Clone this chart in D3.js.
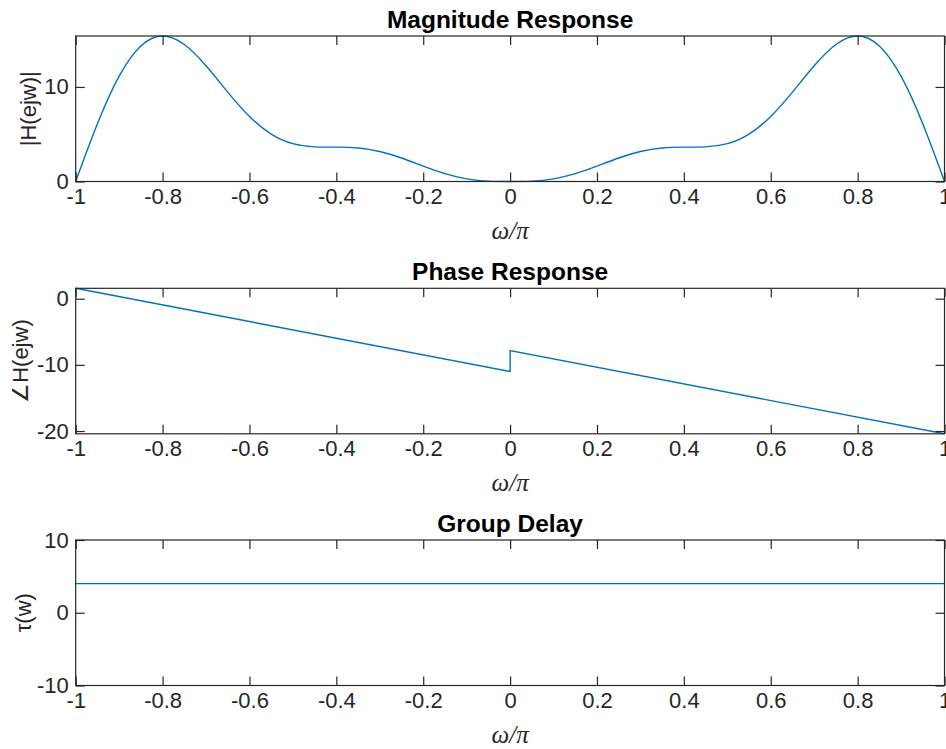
<!DOCTYPE html>
<html>
<head>
<meta charset="utf-8">
<title>Filter Response</title>
<script src="https://d3js.org/d3.v7.min.js"></script>
<style>
  body { margin: 0; background: #fff; }
  .tick text { font-family: "Liberation Sans", Arial, sans-serif; font-size: 22px; fill: #262626; }
  .tick line { stroke: #262626; stroke-width: 1.2; }
  .title { font-family: "Liberation Sans", Arial, sans-serif; font-size: 24.5px; font-weight: bold; fill: #000; }
  .ylabel { font-family: "Liberation Sans", Arial, sans-serif; font-size: 22px; fill: #262626; }
  .xlabel { font-family: "Liberation Serif", "Times New Roman", serif; font-size: 25px; font-style: italic; fill: #262626; }
</style>
</head>
<body>
<svg id="chart" width="946" height="749"></svg>
<script>
var omega = [-1, -0.95, -0.9, -0.85, -0.8, -0.75, -0.7, -0.65, -0.6, -0.55, -0.5,
             -0.45, -0.4, -0.35, -0.3, -0.25, -0.2, -0.15, -0.1, -0.05, 0,
             0.05, 0.1, 0.15, 0.2, 0.25, 0.3, 0.35, 0.4, 0.45, 0.5,
             0.55, 0.6, 0.65, 0.7, 0.75, 0.8, 0.85, 0.9, 0.95, 1];
var magnitude = [0, 6.097, 11.137, 14.339, 15.388, 14.485, 12.239, 9.454, 6.882, 5.016, 4.0,
                 3.659, 3.633, 3.550, 3.177, 2.485, 1.625, 0.826, 0.279, 0.038, 0,
                 0.038, 0.279, 0.826, 1.625, 2.485, 3.177, 3.550, 3.633, 3.659, 4.0,
                 5.016, 6.882, 9.454, 12.239, 14.485, 15.388, 14.339, 11.137, 6.097, 0];

// phase (unwrapped), jump at omega = 0
var phaseX = [-1, 0, 0, 1];
var phaseY = [1.5708, -10.9956, -7.8540, -20.4204];

// group delay
var delayX = [-1, 1];
var delayY = [4, 4];

var freqTicks = [-1, -0.8, -0.6, -0.4, -0.2, 0, 0.2, 0.4, 0.6, 0.8, 1];
var magTicks = [0, 10];
var phaseTicks = [-20, -10, 0];
var delayTicks = [-10, 0, 10];

var svg = d3.select("#chart");
svg.append("rect").attr("width", 946).attr("height", 749).attr("fill", "#fff");

var left = 75.7, right = 944.5, h = 145.5, tickLen = 9;

var x = d3.scaleLinear().domain([-1, 1]).range([left, right]);

function fmt(d) {
    return String(+d.toFixed(1));
}

var panels = [
    { title: "Magnitude Response", ylabel: "|H(ejw)|", top: 36, labelX: 28,
      domain: [0, d3.max(magnitude)], ticks: magTicks,
      xs: omega, ys: magnitude, curve: d3.curveNatural },
    { title: "Phase Response", ylabel: "\u2220H(ejw)", top: 288.3, labelX: 20,
      domain: [d3.min(phaseY), d3.max(phaseY)], ticks: phaseTicks,
      xs: phaseX, ys: phaseY, curve: d3.curveLinear },
    { title: "Group Delay", ylabel: "\u03c4(w)", top: 540, labelX: 23,
      domain: [-10, 10], ticks: delayTicks,
      xs: delayX, ys: delayY, curve: d3.curveLinear }
];

panels.forEach(function(p) {
    var bottom = p.top + h;
    var y = d3.scaleLinear().domain(p.domain).range([bottom, p.top]);
    var g = svg.append("g");

    // data line
    var line = d3.line()
        .x(function(d, i) { return x(p.xs[i]); })
        .y(function(d, i) { return y(p.ys[i]); })
        .curve(p.curve);
    g.append("path")
        .attr("d", line(p.xs))
        .attr("fill", "none")
        .attr("stroke", "#0072BD")
        .attr("stroke-width", 1.4);

    // axes, ticks pointing inward
    g.append("g").attr("transform", "translate(0," + bottom + ")")
        .call(d3.axisBottom(x).tickValues(freqTicks).tickFormat(fmt)
            .tickSizeInner(-tickLen).tickSizeOuter(0).tickPadding(7));
    g.append("g").attr("transform", "translate(0," + p.top + ")")
        .call(d3.axisTop(x).tickValues(freqTicks).tickFormat("")
            .tickSizeInner(-tickLen).tickSizeOuter(0));
    g.append("g").attr("transform", "translate(" + left + ",0)")
        .call(d3.axisLeft(y).tickValues(p.ticks).tickFormat(fmt)
            .tickSizeInner(-tickLen).tickSizeOuter(0).tickPadding(7));
    g.append("g").attr("transform", "translate(" + right + ",0)")
        .call(d3.axisRight(y).tickValues(p.ticks).tickFormat("")
            .tickSizeInner(-tickLen).tickSizeOuter(0));
    g.selectAll(".domain").remove();
    g.selectAll(".tick text").attr("font-family", null).attr("font-size", null).attr("fill", null);

    // box
    g.append("rect")
        .attr("x", left).attr("y", p.top)
        .attr("width", right - left).attr("height", h)
        .attr("fill", "none").attr("stroke", "#262626").attr("stroke-width", 1.2);

    g.append("text").attr("class", "title")
        .attr("x", (left + right) / 2).attr("y", p.top - 8)
        .attr("text-anchor", "middle").text(p.title);

    g.append("text").attr("class", "xlabel")
        .attr("x", (left + right) / 2).attr("y", bottom + 57)
        .attr("text-anchor", "middle").text("\u03c9/\u03c0");

    g.append("text").attr("class", "ylabel")
        .attr("transform", "translate(" + p.labelX + "," + (p.top + h / 2) + ") rotate(-90)")
        .attr("text-anchor", "middle").attr("dy", "0.35em")
        .text(p.ylabel);
});
</script>
</body>
</html>
